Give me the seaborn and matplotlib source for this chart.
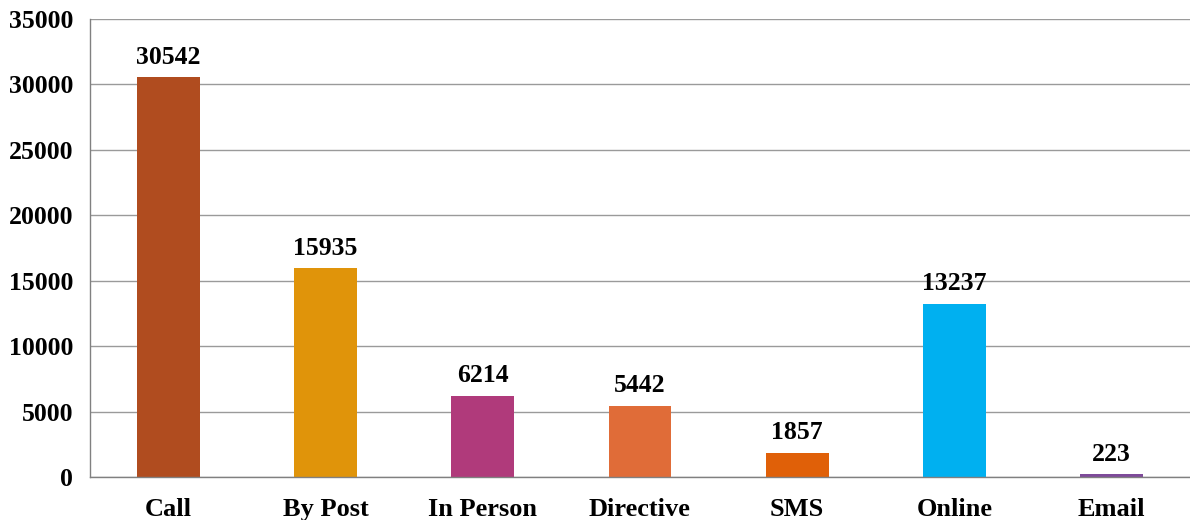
import numpy as np
import pandas as pd
import matplotlib.pyplot as plt
import seaborn as sns

categories = ['Call', 'By Post', 'In Person', 'Directive', 'SMS', 'Online', 'Email']
counts = [30542, 15935, 6214, 5442, 1857, 13237, 223]
bar_colors = ['#B04C1F', '#E0940A', '#B03A7B', '#E06C38', '#E06008', '#00B0F0', '#7E4A9A']

df = pd.DataFrame({'channel': categories, 'count': counts})

sns.set_style('white')
plt.rcParams['font.family'] = ['Liberation Serif', 'DejaVu Serif']
plt.rcParams['font.weight'] = 'bold'
plt.rcParams['text.color'] = 'black'
plt.rcParams['xtick.color'] = 'black'
plt.rcParams['ytick.color'] = 'black'

fig = plt.figure(figsize=(11.9, 5.2), dpi=100)
ax = fig.add_axes([0.0756, 0.0827, 0.9244, 0.8808])

sns.barplot(data=df, x='channel', y='count', hue='channel', palette=bar_colors,
            legend=False, width=0.4, saturation=1, linewidth=0, ax=ax)

# value labels above the bars
for i, v in enumerate(counts):
    ax.text(i, v + 650, str(v), ha='center', va='bottom', fontsize=18.5, fontweight='bold')

ax.set_ylim(0, 35000)
ax.set_xlim(-0.5, len(categories) - 0.5)
ax.set_yticks(np.arange(0, 35001, 5000))
ax.yaxis.grid(True, color='#9a9a9a', linewidth=1)
ax.set_axisbelow(True)

# excel-style ticks between categories
ax.set_xticks(np.arange(len(categories) + 1) - 0.5, minor=True)
ax.tick_params(axis='x', which='major', length=0, pad=15, labelsize=19)
ax.tick_params(axis='x', which='minor', length=7, color='#808080', width=1)
ax.tick_params(axis='y', length=7, color='#808080', width=1, labelsize=18.5, pad=5)
for lab in ax.get_xticklabels() + ax.get_yticklabels():
    lab.set_fontweight('bold')
    lab.set_color('black')

ax.set_xlabel('')
ax.set_ylabel('')
for side in ['top', 'right']:
    ax.spines[side].set_visible(False)
for side in ['left', 'bottom']:
    ax.spines[side].set_color('#808080')
    ax.spines[side].set_linewidth(1)

fig.savefig('out.png', dpi=100)
